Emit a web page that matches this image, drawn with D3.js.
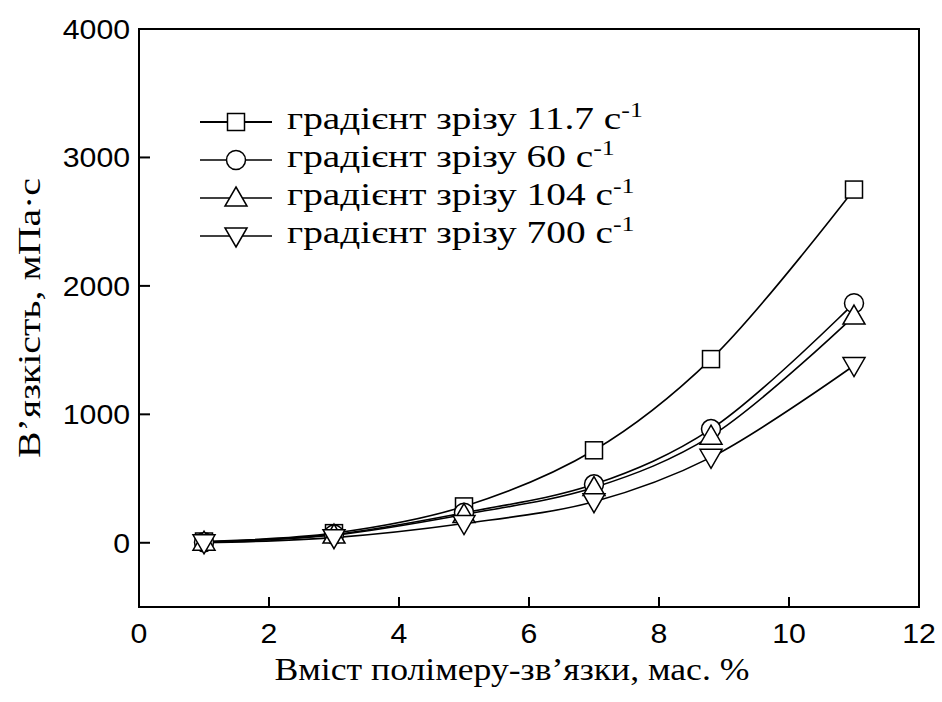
<!DOCTYPE html>
<html>
<head>
<meta charset="utf-8">
<script src="https://cdn.jsdelivr.net/npm/d3@7"></script>
<style>
  body { margin: 0; background: #fff; }
  .tick-label { font-family: "Liberation Sans", Arial, sans-serif; font-size: 28px; fill: #000; }
  .serif { font-family: "Liberation Serif", "Times New Roman", serif; fill: #000; }
</style>
</head>
<body>
<div id="chart"></div>
<script>
// Data

var content = [1, 3, 5, 7, 8.8, 11];
var shear11 = [10, 75, 283, 720, 1430, 2750];
var shear60 = [5, 65, 234, 455, 885, 1865];
var shear104 = [5, 60, 220, 430, 830, 1765];
var shear700 = [0, 40, 150, 320, 665, 1380];

var seriesNames = ['11.7', '60', '104', '700'];
var seriesSymbols = ['square', 'circle', 'triangle', 'down'];

var xTicks = [0, 2, 4, 6, 8, 10, 12];
var yTicks = [0, 1000, 2000, 3000, 4000];

// Dimensions

var width = 942;
var height = 702;
var plotLeft = 139, plotRight = 919, plotTop = 29, plotBottom = 607;
var stretch = 1.15;        // titles are drawn a bit wide
var legendStretch = 1.23;

var svg = d3.select('#chart')
  .append('svg')
  .attr('width', width)
  .attr('height', height);

var x = d3.scaleLinear().domain([0, 12]).range([plotLeft, plotRight]);
var y = d3.scaleLinear().domain([-500, 4000]).range([plotBottom, plotTop]);

// Frame and inward ticks

svg.append('rect')
  .attr('x', plotLeft)
  .attr('y', plotTop)
  .attr('width', plotRight - plotLeft)
  .attr('height', plotBottom - plotTop)
  .attr('fill', 'none')
  .attr('stroke', '#000')
  .attr('stroke-width', 2);

svg.selectAll('.xtick')
  .data(xTicks.slice(1, -1))
  .enter()
  .append('line')
  .attr('x1', function(d) { return x(d); })
  .attr('x2', function(d) { return x(d); })
  .attr('y1', plotBottom)
  .attr('y2', plotBottom - 10)
  .attr('stroke', '#000')
  .attr('stroke-width', 2);

svg.selectAll('.ytick')
  .data(yTicks.slice(0, -1))
  .enter()
  .append('line')
  .attr('x1', plotLeft)
  .attr('x2', plotLeft + 11)
  .attr('y1', function(d) { return y(d); })
  .attr('y2', function(d) { return y(d); })
  .attr('stroke', '#000')
  .attr('stroke-width', 2);

svg.selectAll('.xlabel')
  .data(xTicks)
  .enter()
  .append('text')
  .attr('class', 'tick-label')
  .attr('transform', function(d) { return 'translate(' + x(d) + ',' + 643 + ') scale(1.08,1)'; })
  .attr('text-anchor', 'middle')
  .text(function(d) { return d; });

svg.selectAll('.ylabel')
  .data(yTicks)
  .enter()
  .append('text')
  .attr('class', 'tick-label')
  .attr('transform', function(d) { return 'translate(' + (plotLeft - 9) + ',' + (y(d) + 10) + ') scale(1.08,1)'; })
  .attr('text-anchor', 'end')
  .text(function(d) { return d; });

// Axis titles

svg.append('text')
  .attr('class', 'serif')
  .attr('transform', 'translate(' + 512 + ',680) scale(' + stretch + ',1)')
  .attr('text-anchor', 'middle')
  .style('font-size', '31px')
  .text('Вміст полімеру-зв’язки, мас. %');

svg.append('text')
  .attr('class', 'serif')
  .attr('transform', 'translate(40,318) rotate(-90)')
  .attr('text-anchor', 'middle')
  .attr('textLength', 280)
  .attr('lengthAdjust', 'spacingAndGlyphs')
  .style('font-size', '32px')
  .text('В’язкість, мПа·с');

// Marker drawing

function drawMarker(g, type, cx, cy) {
  var m;
  if (type === 'square') {
    m = g.append('rect').attr('x', cx - 8.5).attr('y', cy - 8.5).attr('width', 17).attr('height', 17);
  } else if (type === 'circle') {
    m = g.append('circle').attr('cx', cx).attr('cy', cy).attr('r', 9.5);
  } else if (type === 'triangle') {
    m = g.append('path').attr('d', 'M' + cx + ',' + (cy - 11) + 'L' + (cx + 11) + ',' + (cy + 8) + 'L' + (cx - 11) + ',' + (cy + 8) + 'Z');
  } else {
    m = g.append('path').attr('d', 'M' + cx + ',' + (cy + 11) + 'L' + (cx + 11) + ',' + (cy - 8) + 'L' + (cx - 11) + ',' + (cy - 8) + 'Z');
  }
  m.attr('fill', '#fff').attr('stroke', '#000').attr('stroke-width', 1.5);
}

// Curves

var allSeries = [shear11, shear60, shear104, shear700];

var line = d3.line()
  .x(function(d) { return x(d[0]); })
  .y(function(d) { return y(d[1]); })
  .curve(d3.curveCatmullRom.alpha(0.5));

var g = svg.append('g');

allSeries.forEach(function(vals) {
  g.append('path')
    .attr('d', line(d3.zip(content, vals)))
    .attr('fill', 'none')
    .attr('stroke', '#000')
    .attr('stroke-width', 1.6);
});

allSeries.forEach(function(vals, i) {
  content.forEach(function(c, j) {
    drawMarker(g, seriesSymbols[i], x(c), y(vals[j]));
  });
});

// Legend

var legend = svg.append('g');

seriesNames.forEach(function(name, i) {
  var ly = 122 + i * 38;
  legend.append('line')
    .attr('x1', 200).attr('x2', 272)
    .attr('y1', ly).attr('y2', ly)
    .attr('stroke', '#000')
    .attr('stroke-width', i === 0 ? 2.2 : 1.6);
  drawMarker(legend, seriesSymbols[i], 236, ly);

  var t = legend.append('text')
    .attr('class', 'serif')
    .attr('transform', 'translate(287,' + (ly + 7) + ') scale(' + legendStretch + ',1)')
    .style('font-size', '32px')
    .text('градієнт зрізу ' + name + ' с');
  t.append('tspan')
    .attr('dy', -12)
    .style('font-size', '21px')
    .text('-1');
});
</script>
</body>
</html>
